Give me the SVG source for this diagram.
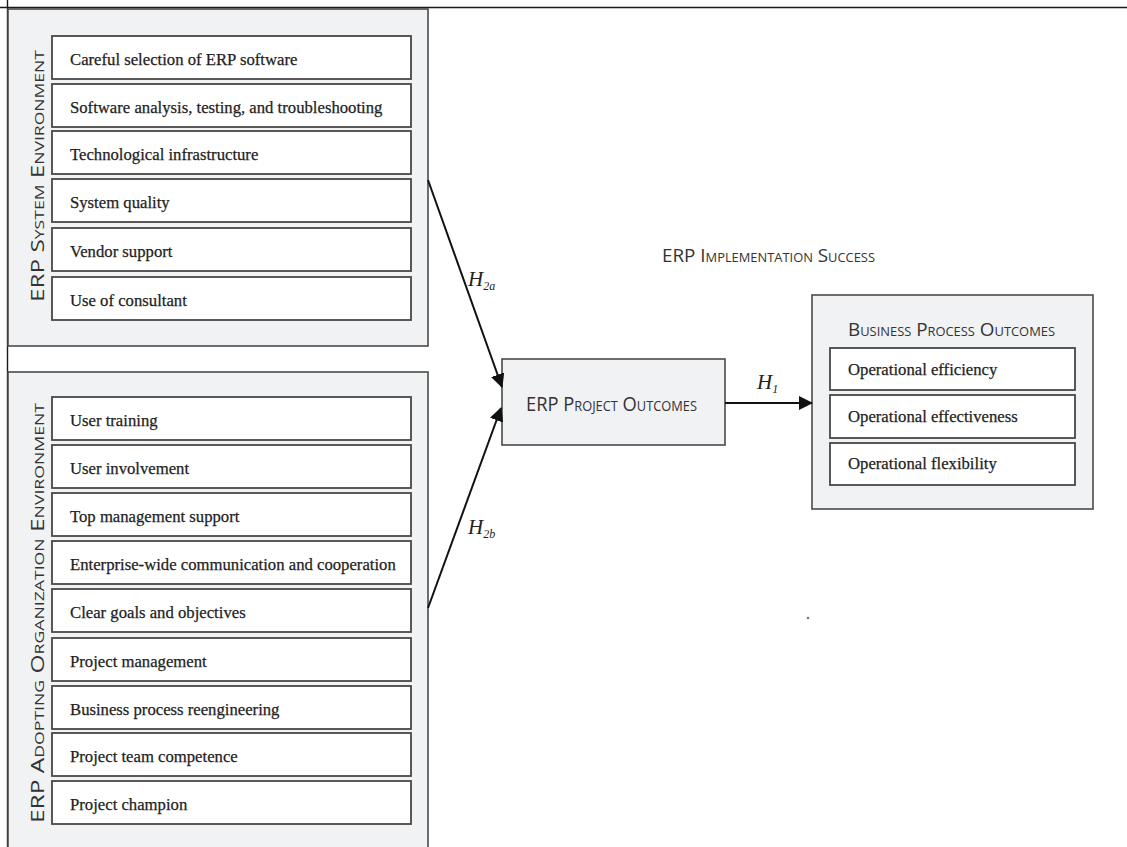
<svg xmlns="http://www.w3.org/2000/svg" width="1127" height="847" viewBox="0 0 1127 847">
  <style>
    .panel { fill: #f1f2f4; stroke: #4a4a4a; stroke-width: 1.6; }
    .item { fill: #ffffff; stroke: #474747; stroke-width: 1.8; }
    .itxt { font-family: "Liberation Serif", "Times New Roman", serif; font-size: 16.7px; fill: #1e1e1e; stroke: #1e1e1e; stroke-width: 0.25; }
    .cap { font-family: "Open Sans", "Liberation Sans", sans-serif; font-variant: small-caps; fill: #333333; }
    .hyp { font-family: "Liberation Serif", "Times New Roman", serif; font-style: italic; fill: #222222; }
    .conn { stroke: #111111; stroke-width: 2; fill: none; }
  </style>
  <defs>
    <marker id="arrow" viewBox="0 0 14 14" refX="13" refY="7" markerWidth="14" markerHeight="14" markerUnits="userSpaceOnUse" orient="auto">
      <path d="M0,0 L14,7 L0,14 z" fill="#111111"/>
    </marker>
  </defs>
  <rect width="1127" height="847" fill="#ffffff"/>

  <!-- page frame lines -->
  <line x1="0" y1="7.5" x2="1127" y2="7.5" stroke="#1a1a1a" stroke-width="1.6"/>
  <line x1="7.5" y1="0" x2="7.5" y2="847" stroke="#1a1a1a" stroke-width="1.4"/>

  <!-- ERP system environment -->
  <g id="system-env">
    <rect class="panel" x="8" y="9" width="420" height="337"/>
    <text class="cap" font-size="18" transform="translate(43.5,176) rotate(-90)" text-anchor="middle" textLength="252" lengthAdjust="spacingAndGlyphs">ERP System Environment</text>
    <g id="sys-items">
      <rect class="item" x="52" y="36" width="359" height="43"/>
      <text class="itxt" x="70" y="65">Careful selection of ERP software</text>
      <rect class="item" x="52" y="84" width="359" height="43"/>
      <text class="itxt" x="70" y="113">Software analysis, testing, and troubleshooting</text>
      <rect class="item" x="52" y="131" width="359" height="43"/>
      <text class="itxt" x="70" y="160">Technological  infrastructure</text>
      <rect class="item" x="52" y="179" width="359" height="43"/>
      <text class="itxt" x="70" y="208">System quality</text>
      <rect class="item" x="52" y="228" width="359" height="43"/>
      <text class="itxt" x="70" y="257">Vendor support</text>
      <rect class="item" x="52" y="277" width="359" height="43"/>
      <text class="itxt" x="70" y="306">Use of consultant</text>
    </g>
  </g>

  <!-- ERP adopting organization environment -->
  <g id="org-env">
    <rect class="panel" x="8" y="372" width="420" height="490"/>
    <text class="cap" font-size="18" transform="translate(43.5,613) rotate(-90)" text-anchor="middle" textLength="420" lengthAdjust="spacingAndGlyphs">ERP Adopting Organization Environment</text>
    <g id="org-items">
      <rect class="item" x="52" y="397" width="359" height="43"/>
      <text class="itxt" x="70" y="426">User training</text>
      <rect class="item" x="52" y="445" width="359" height="43"/>
      <text class="itxt" x="70" y="474">User involvement</text>
      <rect class="item" x="52" y="493" width="359" height="43"/>
      <text class="itxt" x="70" y="522">Top management support</text>
      <rect class="item" x="52" y="541" width="359" height="43"/>
      <text class="itxt" x="70" y="570">Enterprise-wide communication and cooperation</text>
      <rect class="item" x="52" y="589" width="359" height="43"/>
      <text class="itxt" x="70" y="618">Clear goals and objectives</text>
      <rect class="item" x="52" y="638" width="359" height="43"/>
      <text class="itxt" x="70" y="667">Project management</text>
      <rect class="item" x="52" y="686" width="359" height="43"/>
      <text class="itxt" x="70" y="715">Business process reengineering</text>
      <rect class="item" x="52" y="733" width="359" height="43"/>
      <text class="itxt" x="70" y="762">Project team competence</text>
      <rect class="item" x="52" y="781" width="359" height="43"/>
      <text class="itxt" x="70" y="810">Project champion</text>
    </g>
  </g>

  <!-- central node -->
  <g id="project-outcomes">
    <rect class="panel" x="502" y="359" width="223" height="86"/>
    <text class="cap" font-size="20" x="611.5" y="411" text-anchor="middle" textLength="171" lengthAdjust="spacingAndGlyphs">ERP Project Outcomes</text>
  </g>

  <!-- heading -->
  <g id="success-heading">
    <text class="cap" font-size="19" x="768.5" y="262" text-anchor="middle" textLength="213" lengthAdjust="spacingAndGlyphs">ERP Implementation Success</text>
  </g>

  <!-- business process outcomes -->
  <g id="business-outcomes">
    <rect class="panel" x="812" y="295" width="281" height="214"/>
    <text class="cap" font-size="19" x="951.5" y="336" text-anchor="middle" textLength="207" lengthAdjust="spacingAndGlyphs">Business Process Outcomes</text>
    <rect class="item" x="830" y="348" width="245" height="42"/>
    <text class="itxt" x="848" y="375">Operational efficiency</text>
    <rect class="item" x="830" y="395" width="245" height="43"/>
    <text class="itxt" x="848" y="422">Operational effectiveness</text>
    <rect class="item" x="830" y="443" width="245" height="42"/>
    <text class="itxt" x="848" y="469">Operational flexibility</text>
  </g>

  <!-- connectors -->
  <g id="connectors">
    <line class="conn" x1="428" y1="180" x2="502" y2="387" marker-end="url(#arrow)"/>
    <line class="conn" x1="428" y1="608" x2="501" y2="408" marker-end="url(#arrow)"/>
    <line class="conn" x1="725" y1="403" x2="812" y2="403" marker-end="url(#arrow)"/>
    <text class="hyp" font-size="21" x="468" y="286">H<tspan font-size="12" dy="4">2a</tspan></text>
    <text class="hyp" font-size="21" x="468" y="534">H<tspan font-size="12" dy="4">2b</tspan></text>
    <text class="hyp" font-size="21" x="757" y="389">H<tspan font-size="12" dy="4">1</tspan></text>
  </g>

  <circle cx="808" cy="618" r="1.3" fill="#777777"/>
</svg>
